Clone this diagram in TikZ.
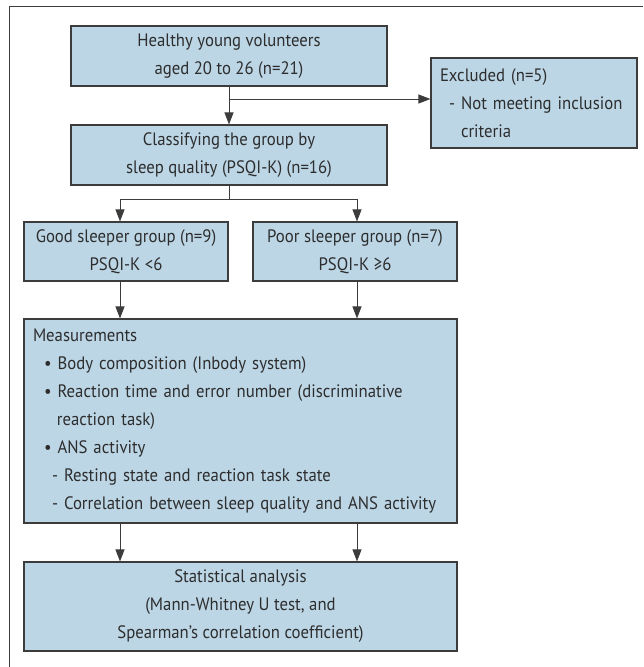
\documentclass[tikz,border=0pt]{standalone}
\usepackage{fontspec}
\setmainfont[FakeStretch=0.93]{PT Sans}
\usetikzlibrary{arrows.meta,positioning,calc}
\definecolor{boxblue}{RGB}{188,214,230}
\definecolor{edgegray}{RGB}{60,60,60}
\definecolor{txtgray}{RGB}{45,45,45}
\tikzset{every picture/.style={line width=0.75pt}}

\begin{document}
\begin{tikzpicture}[x=1pt,y=-1pt,
    box/.style={draw=edgegray, fill=boxblue, line width=1.1pt, inner sep=0pt,
      text=txtgray, font=\fontsize{18}{28}\selectfont},
    link/.style={draw=edgegray, line width=0.9pt},
    arr/.style={link, -{Triangle[length=12pt,width=9pt]}}]
    \useasboundingbox (0,0) rectangle (643,667);

    % 外框
    \draw[edgegray, line width=1pt] (9,667) -- (9,6) -- (643,6);

    % 招募与分组
    \node[box, minimum width=316pt, minimum height=60pt, align=center] (healthy) at (229,56)
        {Healthy young volunteers\\aged 20 to 26 (n=21)};
    \node[box, minimum width=316pt, minimum height=60pt, align=center] (classify) at (229,155)
        {Classifying the group by\\sleep quality (PSQI-K) (n=16)};
    \node[box, minimum height=90pt, inner xsep=9pt, text width=188pt, align=left] (excluded) at (534,103)
        {Excluded (n=5)\\\hspace*{9pt}- Not meeting inclusion\\\hspace*{21pt}criteria};
    \node[box, minimum width=204pt, minimum height=59pt, align=center] (good) at (126,251.5)
        {Good sleeper group (n=9)\\PSQI-K <6};
    \node[box, minimum width=204pt, minimum height=59pt, align=center] (poor) at (355,251.5)
        {Poor sleeper group (n=7)\\PSQI-K ≥6};

    % 测量与统计
    \node[box, minimum height=204pt, inner xsep=9pt, text width=415pt, align=left] (meas) at (240.5,421)
        {Measurements\\
         \hspace*{11pt}• Body composition (Inbody system)\\
         \hspace*{11pt}• Reaction time and error number (discriminative\\
         \hspace*{24pt}reaction task)\\
         \hspace*{11pt}• ANS activity\\
         \hspace*{19pt}- Resting state and reaction task state\\
         \hspace*{19pt}- Correlation between sleep quality and ANS activity};
    \node[box, minimum width=433pt, minimum height=89pt, align=center] (stat) at (240.5,606.5)
        {Statistical analysis\\(Mann-Whitney U test, and\\Spearman's correlation coefficient)};

    % 连线
    \coordinate (fork) at (229,99);
    \coordinate (split) at (229,199);
    \draw[arr] (healthy.south) -- (classify.north);
    \draw[arr] (fork) -- (fork -| excluded.west);
    \draw[link] (classify.south) -- (split);
    \draw[arr] (split) -| ([xshift=-6pt]good.north);
    \draw[arr] (split) -| ([xshift=2pt]poor.north);
    \draw[arr] ([xshift=-6pt]good.south) -- ([xshift=-6pt]good.south |- meas.north);
    \draw[arr] ([xshift=2pt]poor.south) -- ([xshift=2pt]poor.south |- meas.north);
    \draw[arr] ([xshift=-6pt]good.south |- meas.south) -- ([xshift=-6pt]good.south |- stat.north);
    \draw[arr] ([xshift=2pt]poor.south |- meas.south) -- ([xshift=2pt]poor.south |- stat.north);
\end{tikzpicture}
\end{document}
